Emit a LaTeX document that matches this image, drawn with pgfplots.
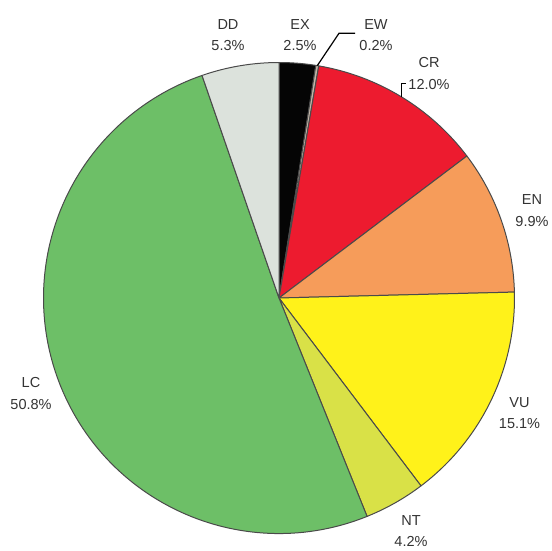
\documentclass[border=0pt]{standalone}
\usepackage{fontspec}
\setmainfont{Liberation Sans}
\usepackage{pgfplots}
\usepackage{pgfplotstable}
\pgfplotsset{compat=1.18}
\definecolor{cEX}{HTML}{050505}
\definecolor{cEW}{HTML}{C2B6A8}
\definecolor{cCR}{HTML}{ED1B2F}
\definecolor{cEN}{HTML}{F69C5A}
\definecolor{cVU}{HTML}{FFF21A}
\definecolor{cNT}{HTML}{D9E147}
\definecolor{cLC}{HTML}{6DBF67}
\definecolor{cDD}{HTML}{DCE2DC}
\definecolor{edge}{HTML}{4A4A4A}
\definecolor{txt}{HTML}{333333}
\tikzset{lbl/.style={font=\fontsize{14.5}{21.5}\selectfont, text=txt, align=center, inner sep=0pt}}
\pgfplotstableread{
name pct col lx ly
EX 2.5 cEX 300 515.0
EW 0.2 cEW 376 515.0
CR 12.0 cCR 429 476.7
EN 9.9 cEN 532 339.5
VU 15.1 cVU 519.5 136.7
NT 4.2 cNT 411 19.0
LC 50.8 cLC 31 156.7
DD 5.3 cDD 228 514.7
}\slices
\begin{document}
\begin{tikzpicture}
\begin{axis}[
  x=1pt, y=1pt,
  xmin=0, xmax=552, ymin=0, ymax=550,
  hide axis, clip=false, enlargelimits=false,
  anchor=origin, at={(0,0)},
]
\def\startang{90}
\pgfplotsforeachungrouped \i in {0,...,7}{
  \pgfplotstablegetelem{\i}{pct}\of\slices \let\p\pgfplotsretval
  \pgfplotstablegetelem{\i}{col}\of\slices \let\c\pgfplotsretval
  \pgfplotstablegetelem{\i}{name}\of\slices \let\nm\pgfplotsretval
  \pgfplotstablegetelem{\i}{lx}\of\slices \let\lx\pgfplotsretval
  \pgfplotstablegetelem{\i}{ly}\of\slices \let\ly\pgfplotsretval
  \pgfmathsetmacro\endang{\startang - 3.6*\p}
  \edef\cmd{\noexpand\filldraw[fill=\c, draw=edge, line width=1pt, line join=round]
    (axis cs:279,252) -- ++(\startang:235.5pt)
    arc[start angle=\startang, end angle=\endang, radius=235.5pt] -- cycle;
    \noexpand\node[lbl] at (axis cs:\lx,\ly) {\nm\noexpand\\\p\noexpand\%};}
  \cmd
  \global\let\startang\endang
}
\draw[black, line width=1.2pt] (axis cs:317.3,484.4) -- (axis cs:339,516.7) -- (axis cs:355,516.7);
\draw[black, line width=1.2pt] (axis cs:401.7,453) -- (axis cs:401.7,466.7) -- (axis cs:405.5,466.7);
\end{axis}
\pgfresetboundingbox
\path (0,0) rectangle (552pt,550pt);
\end{tikzpicture}
\end{document}
